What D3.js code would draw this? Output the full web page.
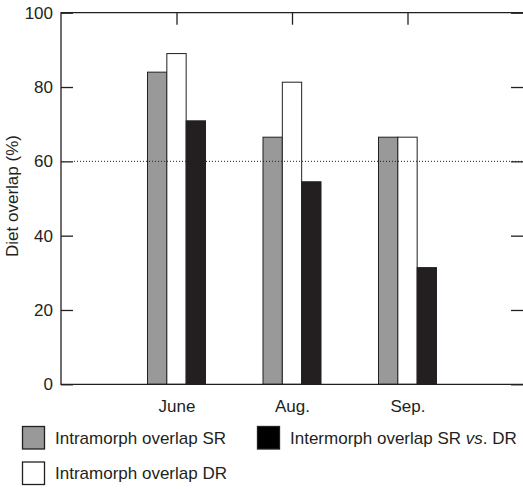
<!DOCTYPE html>
<html>
<head>
<meta charset="utf-8">
<script src="https://cdn.jsdelivr.net/npm/d3@7"></script>
<style>
body { margin: 0; background: #fff; }
text { font-family: "Liberation Sans", Arial, sans-serif; fill: #231f20; }
</style>
</head>
<body>
<svg id="chart" width="523" height="489"></svg>
<script>
// chart values
var months = ["June", "Aug.", "Sep."];
var seriesNames = ["Intramorph overlap SR", "Intramorph overlap DR", "Intermorph overlap SR vs. DR"];
var intraSR = [84, 66.5, 66.5];
var intraDR = [89, 81.3, 66.5];
var inter = [70.9, 54.5, 31.4];
var yTicks = [0, 20, 40, 60, 80, 100];
var fills = ["#999999", "#ffffff", "#231f20"];
var ink = "#231f20";

var svg = d3.select("#chart");

// (window.top is taken, so plot_* names)
var plot_left = 61, plot_right = 523, plot_top = 12.7, plot_bottom = 384.3;

//positions: months sit at 1, 2, 3 on a 0..4 axis
var x = d3.scaleLinear().domain([0, 4]).range([plot_left, plot_right]);
var y = d3.scaleLinear().domain([0, 100]).range([plot_bottom, plot_top]);
var inner = d3.scaleBand().domain([0, 1, 2]).range([-29, 29]);

var data = [];
months.forEach(function(m, i) {
    [intraSR[i], intraDR[i], inter[i]].forEach(function(v, s) {
        data.push({month: i, series: s, value: v});
    });
});

//bars
svg.selectAll("rect.bar")
    .data(data)
    .enter()
    .append("rect")
    .attr("class", "bar")
    .attr("x", d => x(d.month + 1) + inner(d.series))
    .attr("width", inner.bandwidth())
    .attr("y", d => y(d.value))
    .attr("height", d => y(0) - y(d.value))
    .attr("fill", d => fills[d.series])
    .attr("stroke", ink)
    .attr("stroke-width", 1);

//reference line at 60, drawn over the bars
svg.append("line")
    .attr("x1", plot_left + 13).attr("x2", plot_right)
    .attr("y1", y(60)).attr("y2", y(60))
    .attr("stroke", ink).attr("stroke-width", 1)
    .attr("stroke-dasharray", "1,2");

//left axis
svg.append("g")
    .attr("transform", "translate(" + plot_left + ",0)")
    .call(d3.axisLeft(y).tickValues(yTicks).tickSize(-12).tickPadding(8))
    .call(g => g.select(".domain").remove())
    .call(g => g.selectAll(".tick line").attr("stroke", ink).attr("stroke-width", 1.3))
    .call(g => g.selectAll(".tick text")
        .attr("font-size", 17)
        .attr("fill", ink)
        .style("font-family", "Liberation Sans, Arial, sans-serif"));

//right axis ticks
svg.append("g")
    .attr("transform", "translate(" + plot_right + ",0)")
    .call(d3.axisRight(y).tickValues(yTicks).tickSize(-12).tickFormat(""))
    .call(g => g.select(".domain").remove())
    .call(g => g.selectAll(".tick line").attr("stroke", ink).attr("stroke-width", 1.3));

//top axis ticks at months
svg.append("g")
    .attr("transform", "translate(0," + plot_top + ")")
    .call(d3.axisTop(x).tickValues([1, 2, 3]).tickSize(-12).tickFormat(""))
    .call(g => g.select(".domain").remove())
    .call(g => g.selectAll(".tick line").attr("stroke", ink).attr("stroke-width", 1.3));

//bottom month labels
svg.append("g")
    .attr("transform", "translate(0," + plot_bottom + ")")
    .call(d3.axisBottom(x).tickValues([1, 2, 3]).tickSize(0).tickPadding(16)
        .tickFormat(d => months[d - 1]))
    .call(g => g.select(".domain").remove())
    .call(g => g.selectAll(".tick text")
        .attr("font-size", 17)
        .attr("fill", ink)
        .style("font-family", "Liberation Sans, Arial, sans-serif"));

//frame
svg.append("path")
    .attr("d", "M" + plot_right + "," + plot_top + "H" + plot_left + "V" + plot_bottom + "H" + plot_right)
    .attr("fill", "none")
    .attr("stroke", ink)
    .attr("stroke-width", 1.3);

//y label
svg.append("text")
    .attr("transform", "translate(18,196) rotate(-90)")
    .attr("text-anchor", "middle")
    .attr("font-size", 17)
    .text("Diet overlap (%)");

//legend
var legend = [
    {s: 0, x: 22, y: 426},
    {s: 2, x: 257, y: 426},
    {s: 1, x: 22, y: 461.5}
];

var items = svg.selectAll("g.legend")
    .data(legend)
    .enter()
    .append("g")
    .attr("class", "legend")
    .attr("transform", d => "translate(" + d.x + "," + d.y + ")");

items.append("rect")
    .attr("x", 0.5).attr("y", 0.5)
    .attr("width", 22).attr("height", 22.5)
    .attr("fill", d => d.s == 2 ? "#000" : fills[d.s])
    .attr("stroke", ink)
    .attr("stroke-width", 1.3);

items.append("text")
    .attr("x", 33)
    .attr("y", 17.5)
    .attr("font-size", 17)
    .each(function(d) {
        var t = d3.select(this);
        if (d.s == 2) {
            t.append("tspan").text("Intermorph overlap SR ");
            t.append("tspan").attr("font-style", "italic").text("vs");
            t.append("tspan").text(". DR");
        } else {
            t.text(seriesNames[d.s]);
        }
    });
</script>
</body>
</html>
